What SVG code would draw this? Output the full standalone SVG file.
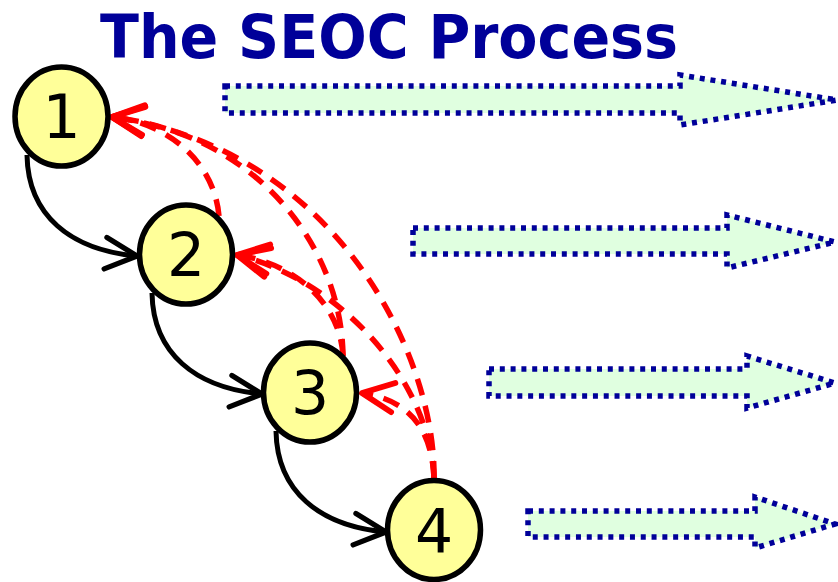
<svg xmlns="http://www.w3.org/2000/svg" width="838" height="582" viewBox="0 0 838 582">
  <style>
    .title { font-family: "DejaVu Sans", "Liberation Sans", sans-serif; font-weight: bold; font-size: 60px; fill: #000099; }
    .node ellipse { fill: #FFFF99; stroke: #000000; stroke-width: 5.5; }
    .node text { font-family: "DejaVu Sans", "Liberation Sans", sans-serif; font-size: 60px; fill: #000000; text-anchor: middle; }
    .flow { fill: none; stroke: #000000; stroke-width: 5; marker-end: url(#headBlack); }
    .back { fill: none; stroke: #FF0000; stroke-width: 5.5; stroke-dasharray: 17 11; marker-end: url(#headRed); }
    .stage { fill: #E0FFE0; stroke: #000099; stroke-width: 5.5; stroke-dasharray: 5 5.8; }
  </style>
  <defs>
    <marker id="headBlack" markerUnits="userSpaceOnUse" markerWidth="40" markerHeight="40" viewBox="-34 -18 38 36" refX="0" refY="0" orient="auto" overflow="visible">
      <path d="M-30,-15 L0,0 L-30,15" fill="none" stroke="#000000" stroke-width="5" stroke-linecap="round" stroke-linejoin="round"/>
    </marker>
    <marker id="headRed" markerUnits="userSpaceOnUse" markerWidth="40" markerHeight="40" viewBox="-34 -18 38 36" refX="0" refY="0" orient="auto" overflow="visible">
      <path d="M-30,-14 L0,0 L-30,14" fill="none" stroke="#FF0000" stroke-width="5.5" stroke-linecap="round" stroke-linejoin="round"/>
    </marker>
  </defs>

  <rect width="838" height="582" fill="#FFFFFF"/>

  <text class="title" x="100" y="58" textLength="578" lengthAdjust="spacingAndGlyphs">The SEOC Process</text>

  <!-- stage arrows -->
  <g id="stage-arrows">
    <path id="stage-1" class="stage" d="M225,86 H680 V75 L837,100 L680,125 V113 H225 Z"/>
    <path id="stage-2" class="stage" d="M413,228 H727 V215 L835,242 L727,268 V254 H413 Z"/>
    <path id="stage-3" class="stage" d="M489,369 H747 V356 L835,383 L747,408 V396 H489 Z"/>
    <path id="stage-4" class="stage" d="M528,511 H755 V497 L835,524 L755,548 V537 H528 Z"/>
  </g>

  <!-- forward and feedback connectors -->
  <g id="connectors">
    <path class="flow" d="M27,155 C28,215 70,250 137,256"/>
    <path class="flow" d="M152,293 C153,353 195,388 262,394"/>
    <path class="flow" d="M276,431 C277,491 319,526 386,532"/>

    <path class="back" d="M219,216 C214,160 165,122 112,117"/>
    <path class="back" d="M343,356 C342,250 260,135 112,117"/>
    <path class="back" d="M434,478 C436,360 340,150 112,117"/>
    <path class="back" d="M343,356 C340,300 290,262 237,255"/>
    <path class="back" d="M434,478 C430,380 340,280 237,255"/>
    <path class="back" d="M434,478 C432,430 410,400 362,393"/>
  </g>

  <!-- process steps -->
  <g id="node-1" class="node">
    <ellipse cx="61.5" cy="116.5" rx="46.5" ry="49.5"/>
    <text x="61.5" y="138">1</text>
  </g>
  <g id="node-2" class="node">
    <ellipse cx="186" cy="254.5" rx="46.5" ry="49.5"/>
    <text x="186" y="276">2</text>
  </g>
  <g id="node-3" class="node">
    <ellipse cx="310" cy="392.5" rx="46.5" ry="49.5"/>
    <text x="310" y="414">3</text>
  </g>
  <g id="node-4" class="node">
    <ellipse cx="434" cy="530" rx="46.5" ry="49.5"/>
    <text x="434" y="551.5">4</text>
  </g>
</svg>
